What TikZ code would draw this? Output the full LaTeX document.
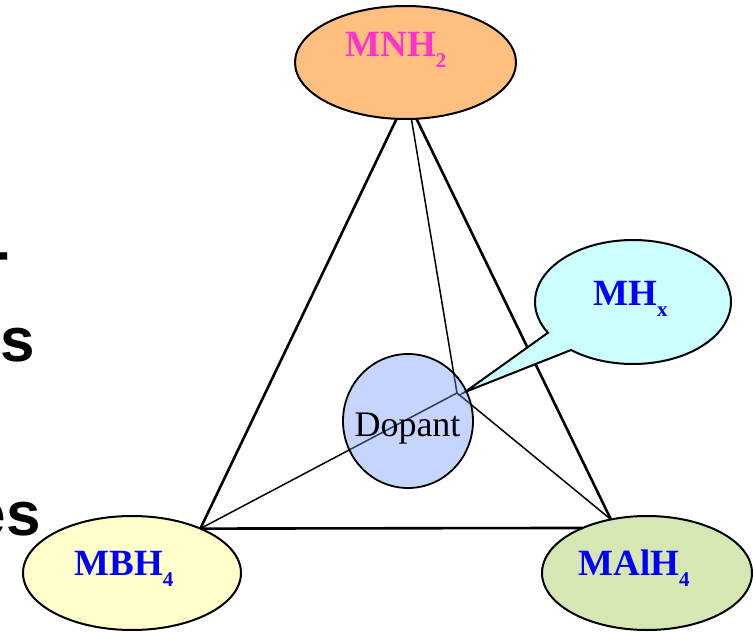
\documentclass[tikz,border=0pt]{standalone}
\usepackage{fontspec}
\setmainfont{Liberation Serif}
\newfontfamily\slidefont{Liberation Sans}
\usetikzlibrary{shapes.geometric,shapes.callouts}

\definecolor{amidefill}{RGB}{255,191,128}
\definecolor{amidetext}{RGB}{255,51,204}
\definecolor{hydridefill}{RGB}{204,255,255}
\definecolor{borofill}{RGB}{255,255,204}
\definecolor{alanatefill}{RGB}{215,231,180}
\definecolor{dopantfill}{RGB}{110,150,255}
\definecolor{labelblue}{RGB}{0,0,255}

% lowered subscript for the formula labels
\newcommand{\chemsub}[1]{\raisebox{-0.3em}{\fontsize{21}{21}\selectfont #1}}

\tikzset{
  blob/.style={ellipse, draw=black, line width=2pt, inner sep=0pt, outer sep=0pt},
  edge/.style={line width=2.6pt},
  spoke/.style={line width=1.5pt},
  formula/.style={font=\fontsize{37}{40}\selectfont\bfseries, text=labelblue, inner sep=0pt, anchor=base},
  slidetext/.style={font=\slidefont\fontsize{62}{70}\selectfont\bfseries, inner sep=0pt, anchor=base east}
}

\begin{document}
\begin{tikzpicture}[x=1pt,y=-1pt]
\useasboundingbox (0,0) rectangle (753,632);

% words of the slide text running in from the left
\node[slidetext] (wordA) at (10,272) {-};
\node[slidetext] (wordB) at (35,361) {s};
\node[slidetext] (wordC) at (41,535) {es};

% the three parent compounds
\node[blob, fill=amidefill, minimum width=221pt, minimum height=113pt] (mnh) at (405.5,62.5) {};
\node[blob, fill=borofill, minimum width=218pt, minimum height=114pt] (mbh) at (132,573) {};
\node[blob, fill=alanatefill, minimum width=210pt, minimum height=114pt] (mal) at (647,573) {};

% central meeting point of the spokes
\coordinate (J) at (457,393);

% triangle edges
\draw[edge] (mnh.261.6) -- (mbh.33.9);
\draw[edge] (mnh.281.3) -- (mal.124.4);
\draw[edge] (mbh.33.9) -- (mal.145.3);

% spokes to the centre
\draw[spoke] (mnh.276.4) -- (J);
\draw[spoke] (mbh.33.9) -- (J);
\draw[spoke] (J) -- (mal.124.4);

% hydride callout pointing at the centre
\node[ellipse callout, draw=black, line width=2pt, fill=hydridefill, inner sep=0pt,
      minimum width=196pt, minimum height=124pt,
      callout absolute pointer={(465,392)}, callout pointer arc=21] (mhx) at (633,302) {};

% translucent dopant disc
\node[ellipse, draw=black, line width=1.8pt, fill=dopantfill, fill opacity=0.4,
      minimum width=130pt, minimum height=134pt, inner sep=0pt] (dop) at (408,421) {};

% labels
\node[formula, text=amidetext] (mnhlabel) at (396,56) {MNH\chemsub{2}};
\node[formula] (mhxlabel) at (630.5,305) {MH\chemsub{x}};
\node[formula] (mbhlabel) at (124,575) {MBH\chemsub{4}};
\node[formula] (mallabel) at (634,575) {MAlH\chemsub{4}};
\node[font=\fontsize{36}{40}\selectfont, inner sep=0pt, anchor=base] (doplabel) at (407.5,436) {Dopant};
\end{tikzpicture}
\end{document}
